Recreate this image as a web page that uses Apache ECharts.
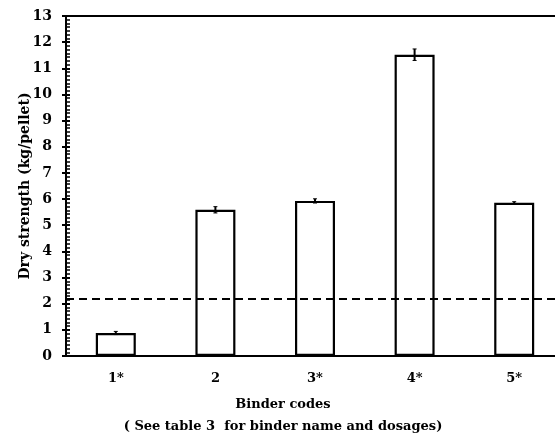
<!DOCTYPE html>
<html>
<head>
<meta charset="utf-8">
<script src="https://cdn.jsdelivr.net/npm/echarts@6/dist/echarts.min.js"></script>
<style>html,body{margin:0;padding:0;background:#fff;overflow:hidden;width:555px;height:439px;}#c{width:564px;height:439px;}</style>
</head>
<body>
<div id="c"></div>
<script>
var categories = ['1*', '2', '3*', '4*', '5*'];
var values = [0.88, 5.59, 5.93, 11.52, 5.86];
var errors = [0.06, 0.12, 0.08, 0.22, 0.04];
var thresholdValue = 2.2;
var yTicks = {min: 0, max: 13, interval: 1};

var FONT = 'DejaVu Serif';
var chart = echarts.init(document.getElementById('c'));
var errData = values.map(function (v, i) { return [i, v, errors[i]]; });

chart.setOption({
  animation: false,
  backgroundColor: '#fff',
  grid: {left: 66, top: 16, right: 0, bottom: 83, show: true, borderColor: '#000', borderWidth: 2, backgroundColor: 'transparent'},
  xAxis: {
    type: 'category', data: categories,
    axisLine: {lineStyle: {color: '#000', width: 2}},
    axisTick: {show: false},
    axisLabel: {color: '#000', fontFamily: FONT, fontWeight: 'bold', fontSize: 13, margin: 16}
  },
  yAxis: [{
    type: 'value', min: yTicks.min, max: yTicks.max, interval: yTicks.interval,
    splitLine: {show: false},
    axisLine: {show: true, lineStyle: {color: '#000', width: 2}},
    axisTick: {show: true, length: 4, lineStyle: {color: '#000', width: 2}},
    axisLabel: {color: '#000', fontFamily: FONT, fontWeight: 'bold', fontSize: 14, margin: 14}
  }, {
    type: 'value', position: 'left', min: yTicks.min, max: yTicks.max, interval: yTicks.interval,
    splitLine: {show: false},
    axisLine: {show: false},
    axisLabel: {show: false},
    axisTick: {show: true, inside: true, length: 4, lineStyle: {color: '#000', width: 2}},
    minorTick: {show: true, splitNumber: 7, length: 4, lineStyle: {color: '#000', width: 1.5}}
  }],
  series: [{
    type: 'bar', data: values, barWidth: 40,
    itemStyle: {color: '#fff', borderColor: '#000', borderWidth: 2.2},
    markLine: {
      silent: true, symbol: 'none', label: {show: false},
      lineStyle: {color: '#000', type: [8, 5], width: 1.8},
      data: [{yAxis: thresholdValue}]
    }
  }, {
    type: 'custom', data: errData, z: 10,
    renderItem: function (params, api) {
      var i = api.value(0), v = api.value(1), e = api.value(2);
      var hi = api.coord([i, v + e]);
      var lo = api.coord([i, v - e]);
      var cap = 2;
      return {type: 'group', children: [
        {type: 'line', shape: {x1: hi[0], y1: hi[1], x2: lo[0], y2: lo[1]}, style: {stroke: '#000', lineWidth: 2}},
        {type: 'line', shape: {x1: hi[0] - cap, y1: hi[1], x2: hi[0] + cap, y2: hi[1]}, style: {stroke: '#000', lineWidth: 1}},
        {type: 'line', shape: {x1: lo[0] - cap, y1: lo[1], x2: lo[0] + cap, y2: lo[1]}, style: {stroke: '#000', lineWidth: 1}}
      ]};
    }
  }],
  graphic: [
    {type: 'text', x: 25, y: 186, rotation: Math.PI / 2, style: {text: 'Dry strength (kg/pellet)', font: 'bold 14px "' + FONT + '"', fill: '#000', textAlign: 'center', textVerticalAlign: 'middle'}},
    {type: 'text', x: 283, y: 405, style: {text: 'Binder codes', font: 'bold 13px "' + FONT + '"', fill: '#000', textAlign: 'center', textVerticalAlign: 'middle'}},
    {type: 'text', x: 283, y: 427, style: {text: '( See table 3  for binder name and dosages)', font: 'bold 13px "' + FONT + '"', fill: '#000', textAlign: 'center', textVerticalAlign: 'middle'}}
  ]
});
</script>
</body>
</html>
